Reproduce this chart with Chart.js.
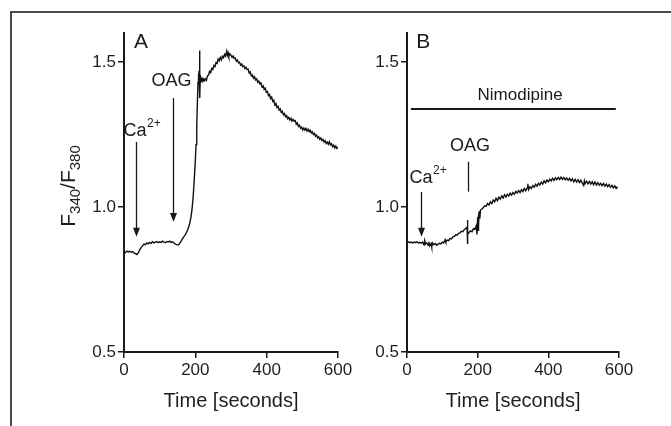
<!DOCTYPE html>
<html>
<head>
<meta charset="utf-8">
<script src="https://cdn.jsdelivr.net/npm/chart.js@4.4.1/dist/chart.umd.min.js"></script>
<style>
  html, body { margin: 0; padding: 0; background: #fff; }
  #wrap { position: relative; width: 671px; height: 426px; overflow: hidden; }
  #frame { position: absolute; left: 10px; top: 11px; width: 700px; height: 450px;
           border-top: 2px solid #4a4a4a; border-left: 2px solid #4a4a4a; }
  canvas { position: absolute; left: 0; top: 0; }
</style>
</head>
<body>
<div id="wrap">
  <div id="frame"></div>
  <canvas id="chartA" width="671" height="426"></canvas>
  <canvas id="chartB" width="671" height="426"></canvas>
</div>
<script>
// ratio F340/F380 over time (s)
var traceA = [
  [0,0.846],[4,0.843],[8,0.848],[12,0.845],[16,0.847],[20,0.844],[24,0.846],[28,0.842],
  [32,0.839],[36,0.836],[40,0.842],[44,0.852],[48,0.860],[52,0.866],[56,0.872],[60,0.870],
  [64,0.876],[68,0.873],[72,0.878],[76,0.875],[80,0.880],[84,0.876],[88,0.879],[92,0.881],
  [96,0.877],[100,0.880],[104,0.878],[108,0.882],[112,0.879],[116,0.877],[120,0.881],[124,0.879],
  [128,0.882],[132,0.878],[136,0.880],[140,0.876],[144,0.872],[148,0.870],[152,0.869],[156,0.874],
  [160,0.882],[164,0.890],[168,0.898],[172,0.905],[176,0.914],[180,0.926],[184,0.942],[188,0.967],
  [191,0.995],[194,1.036],[197,1.095],[200,1.16],[202,1.215],[204,1.28],[206,1.37],[207.5,1.43],
  [208.5,1.46],[209.5,1.44],[210.5,1.47],[211.5,1.43],[212.5,1.54],[213,1.376],[213.5,1.43],[214.5,1.45],
  [216,1.445],[218,1.438],[220,1.442],[222,1.434],[224,1.44],[226,1.436],[228,1.442],[231,1.437],
  [234,1.452],[237,1.455],[240,1.468],[243,1.463],[246,1.478],[249,1.474],[252,1.488],[255,1.484],
  [258,1.498],[261,1.495],[264,1.51],[267,1.504],[270,1.516],[273,1.508],[276,1.52],[279,1.515],
  [282,1.526],[285,1.52],[288,1.537],[290,1.524],[292,1.532],[294,1.52],[297,1.528],[300,1.524],
  [303,1.516],[306,1.521],[309,1.512],[312,1.514],[315,1.503],[318,1.507],[321,1.497],[324,1.499],
  [327,1.489],[330,1.493],[333,1.484],[336,1.487],[339,1.478],[342,1.482],[345,1.474],[348,1.476],
  [351,1.462],[354,1.466],[357,1.452],[360,1.455],[363,1.444],[366,1.449],[369,1.438],[372,1.442],
  [375,1.43],[378,1.434],[381,1.424],[384,1.428],[387,1.414],[390,1.418],[393,1.406],[396,1.41],
  [399,1.396],[402,1.398],[405,1.384],[408,1.388],[411,1.374],[414,1.379],[417,1.364],[420,1.368],
  [423,1.352],[426,1.357],[429,1.343],[432,1.347],[435,1.334],[438,1.338],[441,1.326],[444,1.33],
  [447,1.318],[450,1.322],[453,1.311],[456,1.315],[459,1.304],[462,1.309],[465,1.3],[468,1.306],
  [471,1.296],[474,1.302],[477,1.296],[480,1.298],[483,1.286],[486,1.29],[489,1.278],[492,1.282],
  [495,1.272],[498,1.276],[501,1.266],[504,1.272],[507,1.265],[510,1.271],[513,1.262],[516,1.268],
  [519,1.26],[522,1.265],[525,1.255],[528,1.259],[531,1.25],[534,1.254],[537,1.244],[540,1.248],
  [543,1.238],[546,1.242],[549,1.233],[552,1.238],[555,1.229],[558,1.233],[561,1.224],[564,1.229],
  [567,1.219],[570,1.224],[573,1.216],[576,1.225],[579,1.214],[582,1.218],[585,1.208],[588,1.213],
  [591,1.204],[594,1.21],[597,1.202],[600,1.206]
];
var traceB = [
  [0,0.878],[4,0.880],[8,0.877],[12,0.879],[16,0.876],[20,0.879],[24,0.877],[28,0.880],
  [32,0.876],[36,0.878],[40,0.875],[44,0.879],[48,0.870],[50,0.884],[52,0.872],[56,0.876],
  [60,0.868],[62,0.880],[64,0.866],[68,0.874],[70,0.862],[72,0.876],[76,0.870],[80,0.874],
  [84,0.868],[88,0.872],[92,0.875],[96,0.873],[100,0.879],[104,0.876],[108,0.887],[110,0.880],
  [114,0.886],[118,0.884],[122,0.892],[126,0.890],[130,0.897],[134,0.899],[138,0.904],[142,0.903],
  [146,0.909],[150,0.911],[154,0.916],[158,0.915],[162,0.922],[166,0.926],[170,0.930],[171,0.955],
  [171.5,0.872],[172,0.905],[176,0.913],[180,0.918],[184,0.915],[188,0.925],[192,0.923],[196,0.935],
  [198,0.905],[200,0.965],[201,0.92],[202,0.975],[203,0.935],[204,0.985],[206,0.96],[208,0.99],
  [212,0.993],[216,0.998],[220,1.004],[224,1.003],[228,1.012],[232,1.007],[236,1.018],[240,1.012],
  [244,1.024],[248,1.018],[252,1.03],[256,1.022],[260,1.034],[264,1.027],[268,1.038],[272,1.031],
  [276,1.042],[280,1.034],[284,1.044],[288,1.038],[292,1.048],[296,1.041],[300,1.05],[304,1.044],
  [308,1.054],[312,1.048],[316,1.057],[320,1.05],[324,1.06],[328,1.053],[332,1.064],[336,1.056],
  [340,1.066],[342,1.08],[344,1.06],[348,1.07],[352,1.064],[356,1.074],[360,1.068],[364,1.078],
  [368,1.072],[372,1.082],[376,1.076],[380,1.086],[384,1.079],[388,1.09],[392,1.083],[396,1.093],
  [400,1.087],[404,1.096],[408,1.09],[412,1.099],[416,1.092],[420,1.101],[424,1.094],[428,1.102],
  [432,1.095],[436,1.103],[440,1.095],[444,1.102],[448,1.094],[452,1.1],[456,1.092],[460,1.099],
  [464,1.09],[468,1.097],[472,1.087],[476,1.095],[480,1.086],[484,1.094],[488,1.084],[492,1.092],
  [496,1.082],[500,1.074],[502,1.09],[504,1.081],[508,1.089],[512,1.08],[516,1.088],[520,1.079],
  [524,1.087],[528,1.077],[532,1.086],[536,1.076],[540,1.084],[544,1.075],[548,1.082],[552,1.073],
  [556,1.081],[560,1.072],[564,1.079],[568,1.07],[572,1.077],[576,1.068],[580,1.075],[584,1.066],
  [588,1.073],[592,1.064],[596,1.07]
];

var xTicks = [0, 200, 400, 600];
var yTicks = [0.5, 1.0, 1.5];

// markers: time, start ratio, end ratio
var arrowsA = [ { t: 35, from: 1.224, to: 0.897, head: true }, { t: 136, from: 1.376, to: 0.948, head: true } ];
var arrowsB = [ { t: 39, from: 1.052, to: 0.897, head: true }, { t: 173.5, from: 1.156, to: 1.053, head: false } ];
var barsB = [ { t0: 11, t1: 591, v: 1.338 } ];
var labelsA = [
  { text: 'A', t: 28, v: 1.567, size: 21, align: 'left' },
  { text: 'Ca', sup: '2+', t: 50, v: 1.262, size: 18 },
  { text: 'OAG', t: 133, v: 1.436, size: 18 }
];
var labelsB = [
  { text: 'B', t: 26, v: 1.567, size: 21, align: 'left' },
  { text: 'Ca', sup: '2+', t: 59, v: 1.10, size: 18 },
  { text: 'OAG', t: 178, v: 1.21, size: 18 },
  { text: 'Nimodipine', t: 320, v: 1.386, size: 17 }
];

Chart.defaults.font.family = "'Liberation Sans', Arial, Helvetica, sans-serif";
Chart.defaults.color = '#1e1e1e';

var panelMarks = {
  id: 'panelMarks',
  afterDraw: function(chart, args, o) {
    var ctx = chart.ctx, xs = chart.scales.x, ys = chart.scales.y;
    ctx.save();
    ctx.strokeStyle = '#1a1a1a';
    ctx.fillStyle = '#1a1a1a';
    ctx.lineWidth = 1.3;
    (o.arrows || []).forEach(function(a) {
      var x = Math.round(xs.getPixelForValue(a.t)) + 0.5;
      var y1 = ys.getPixelForValue(a.from), y2 = ys.getPixelForValue(a.to);
      ctx.beginPath();
      ctx.moveTo(x, y1);
      ctx.lineTo(x, a.head ? y2 - 6 : y2);
      ctx.stroke();
      if (a.head) {
        ctx.beginPath();
        ctx.moveTo(x - 3.5, y2 - 9);
        ctx.lineTo(x + 3.5, y2 - 9);
        ctx.lineTo(x, y2);
        ctx.closePath();
        ctx.fill();
      }
    });
    ctx.lineWidth = 2;
    (o.bars || []).forEach(function(b) {
      var y = Math.round(ys.getPixelForValue(b.v));
      ctx.beginPath();
      ctx.moveTo(xs.getPixelForValue(b.t0), y);
      ctx.lineTo(xs.getPixelForValue(b.t1), y);
      ctx.stroke();
    });
    ctx.textBaseline = 'middle';
    (o.labels || []).forEach(function(l) {
      var x = xs.getPixelForValue(l.t), y = ys.getPixelForValue(l.v);
      var ff = Chart.defaults.font.family;
      ctx.font = l.size + 'px ' + ff;
      var w1 = ctx.measureText(l.text).width, w2 = 0, supSize = Math.round(l.size * 0.68);
      if (l.sup) {
        ctx.font = supSize + 'px ' + ff;
        w2 = ctx.measureText(l.sup).width;
      }
      var x0 = l.align === 'left' ? x : x - (w1 + w2) / 2;
      ctx.textAlign = 'left';
      ctx.font = l.size + 'px ' + ff;
      ctx.fillText(l.text, x0, y);
      if (l.sup) {
        ctx.font = supSize + 'px ' + ff;
        ctx.fillText(l.sup, x0 + w1 + 0.5, y - l.size * 0.38);
      }
    });
    ctx.restore();
  }
};

var yTitle = {
  id: 'yTitle',
  afterDraw: function(chart, args, o) {
    if (!o.parts) return;
    var ctx = chart.ctx, ff = Chart.defaults.font.family;
    ctx.save();
    ctx.translate(o.x, o.y);
    ctx.rotate(-Math.PI / 2);
    ctx.fillStyle = '#1e1e1e';
    ctx.textBaseline = 'alphabetic';
    ctx.textAlign = 'left';
    var total = 0;
    o.parts.forEach(function(p) {
      ctx.font = (p[1] ? o.sub : o.big) + 'px ' + ff;
      total += ctx.measureText(p[0]).width;
    });
    var pos = -total / 2;
    o.parts.forEach(function(p) {
      ctx.font = (p[1] ? o.sub : o.big) + 'px ' + ff;
      ctx.fillText(p[0], pos, p[1] ? 5 : 0);
      pos += ctx.measureText(p[0]).width;
    });
    ctx.restore();
  }
};

function makePanel(id, trace, left, right, marks, title) {
  var axisW = 60, axisH = 61;
  return new Chart(document.getElementById(id), {
    type: 'line',
    data: {
      datasets: [{
        data: trace.map(function(p) { return { x: p[0], y: p[1] }; }),
        borderColor: '#111',
        borderWidth: 1.4,
        pointRadius: 0,
        tension: 0,
        fill: false
      }]
    },
    options: {
      responsive: false,
      animation: false,
      events: [],
      layout: { padding: { left: left - axisW, right: 671 - right, top: 33, bottom: 426 - 352 - axisH } },
      plugins: {
        legend: { display: false },
        tooltip: { enabled: false },
        panelMarks: marks,
        yTitle: title || {}
      },
      scales: {
        x: {
          type: 'linear', min: 0, max: 600,
          afterBuildTicks: function(s) { s.ticks = xTicks.map(function(v) { return { value: v }; }); },
          afterFit: function(s) { s.height = axisH; },
          border: { display: true, color: '#1a1a1a', width: 2 },
          grid: { drawOnChartArea: false, drawTicks: true, tickLength: 6, color: '#1a1a1a', lineWidth: 1.5 },
          ticks: { font: { size: 17 }, padding: 2, maxRotation: 0 },
          title: { display: true, text: 'Time [seconds]', font: { size: 20 }, padding: { top: 0, bottom: 0 } }
        },
        y: {
          type: 'linear', min: 0.5, max: 1.6,
          afterBuildTicks: function(s) { s.ticks = yTicks.map(function(v) { return { value: v }; }); },
          afterFit: function(s) { s.width = axisW; },
          border: { display: true, color: '#1a1a1a', width: 2 },
          grid: { drawOnChartArea: false, drawTicks: true, tickLength: 6, color: '#1a1a1a', lineWidth: 1.5 },
          ticks: { font: { size: 17 }, padding: 2, callback: function(v) { return v.toFixed(1); } }
        }
      }
    },
    plugins: [panelMarks, yTitle]
  });
}

makePanel('chartA', traceA, 124, 338, { arrows: arrowsA, labels: labelsA },
  { x: 75, y: 186, big: 21, sub: 15, parts: [['F', false], ['340', true], ['/F', false], ['380', true]] });
makePanel('chartB', traceB, 407, 619, { arrows: arrowsB, bars: barsB, labels: labelsB });
</script>
</body>
</html>
